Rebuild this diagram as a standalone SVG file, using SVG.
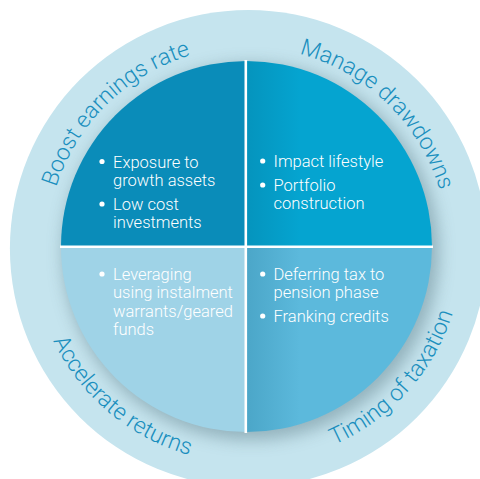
<svg xmlns="http://www.w3.org/2000/svg" xmlns:xlink="http://www.w3.org/1999/xlink" width="480" height="479" viewBox="0 0 480 479">
<style>
.ring{font-family:Roboto,"Liberation Sans",sans-serif;font-weight:300;font-size:23px;fill:#1a8fbe}
.item{font-family:Roboto,"Liberation Sans",sans-serif;font-weight:300;font-size:16.5px;fill:#ffffff}
.bul{fill:#ffffff}
.div{stroke:#ffffff;stroke-width:2.6;fill:none}
</style>
<defs>
<clipPath id="inner"><circle cx="246.5" cy="246.5" r="185.5"/></clipPath>
<clipPath id="outer"><circle cx="248.4" cy="248.5" r="238.5"/></clipPath>
<filter id="blur" x="-20%" y="-20%" width="140%" height="140%"><feGaussianBlur stdDeviation="8"/></filter>
<linearGradient id="gTR" x1="246" y1="0" x2="300" y2="0" gradientUnits="userSpaceOnUse"><stop offset="0" stop-color="#0594bd"/><stop offset="1" stop-color="#05a4d0"/></linearGradient>
<linearGradient id="gBR" x1="246" y1="0" x2="300" y2="0" gradientUnits="userSpaceOnUse"><stop offset="0" stop-color="#4ba6c8"/><stop offset="1" stop-color="#5cb9dc"/></linearGradient>
<path id="pBoost" d="M47.62,263.23 A200.5,200.5 0 0 1 266.72,47.92"/>
<path id="pManage" d="M227.24,48.03 A200.5,200.5 0 0 1 447.46,262.18"/>
<path id="pAccel" d="M32,247.5 A215.5,215.5 0 0 0 284.92,459.73"/>
<path id="pTiming" d="M239.98,462.87 A215.5,215.5 0 0 0 460.90,217.51"/>
</defs>
<rect width="480" height="479" fill="#ffffff"/>
<g id="ring">
<circle cx="248.4" cy="248.5" r="238.5" fill="#c5e4ee"/>
<g clip-path="url(#outer)"><circle cx="251" cy="252" r="188" fill="#7f9ea8" opacity="0.7" filter="url(#blur)"/></g>
</g>
<g id="q-boost">
<rect x="50" y="50" width="196.5" height="196.5" fill="#0a8cb9" clip-path="url(#inner)"/>
<text class="ring"><textPath xlink:href="#pBoost" startOffset="50%" text-anchor="middle">Boost earnings rate</textPath></text>
<circle class="bul" cx="102" cy="161.5" r="2.6"/>
<text class="item" x="113" y="167.5">Exposure to</text>
<text class="item" x="113" y="185.5">growth assets</text>
<circle class="bul" cx="102" cy="204" r="2.6"/>
<text class="item" x="113" y="210">Low cost</text>
<text class="item" x="113" y="228">investments</text>
</g>
<g id="q-manage">
<rect x="246.5" y="50" width="196.5" height="196.5" fill="url(#gTR)" clip-path="url(#inner)"/>
<text class="ring"><textPath xlink:href="#pManage" startOffset="50%" text-anchor="middle">Manage drawdowns</textPath></text>
<circle class="bul" cx="262.7" cy="161" r="2.6"/>
<text class="item" x="273.5" y="167">Impact lifestyle</text>
<circle class="bul" cx="262.7" cy="185" r="2.6"/>
<text class="item" x="273.5" y="191">Portfolio</text>
<text class="item" x="273.5" y="209.3">construction</text>
</g>
<g id="q-accelerate">
<rect x="50" y="246.5" width="196.5" height="196.5" fill="#9fd3e7" clip-path="url(#inner)"/>
<text class="ring"><textPath xlink:href="#pAccel" startOffset="50%" text-anchor="middle">Accelerate returns</textPath></text>
<circle class="bul" cx="102" cy="274" r="2.6"/>
<text class="item" x="113" y="280">Leveraging</text>
<text class="item" x="113" y="298.3">using instalment</text>
<text class="item" x="113" y="316.6">warrants/geared</text>
<text class="item" x="113" y="335">funds</text>
</g>
<g id="q-timing">
<rect x="246.5" y="246.5" width="196.5" height="196.5" fill="url(#gBR)" clip-path="url(#inner)"/>
<text class="ring"><textPath xlink:href="#pTiming" startOffset="50%" text-anchor="middle">Timing of taxation</textPath></text>
<circle class="bul" cx="262.7" cy="274" r="2.6"/>
<text class="item" x="273.5" y="280">Deferring tax to</text>
<text class="item" x="273.5" y="297.7">pension phase</text>
<circle class="bul" cx="262.7" cy="316" r="2.6"/>
<text class="item" x="273.5" y="321.7">Franking credits</text>
</g>
<g id="connectors">
<line class="div" x1="245.8" y1="60" x2="245.8" y2="433"/>
<line class="div" x1="60" y1="246.8" x2="433" y2="246.8"/>
</g>
</svg>
